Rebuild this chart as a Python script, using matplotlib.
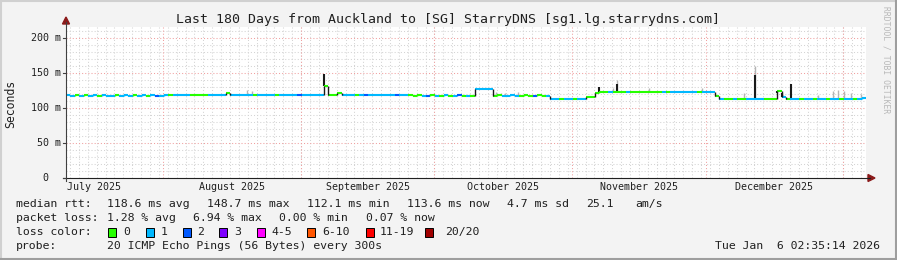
import numpy as np
import matplotlib
matplotlib.use('Agg')
import matplotlib.pyplot as plt
from matplotlib.lines import Line2D
from matplotlib.patches import Rectangle, Polygon
from datetime import datetime, timedelta

# ---------------- data ----------------
title = "Last 180 Days from Auckland to [SG] StarryDNS [sg1.lg.starrydns.com]"
end_time = datetime(2026, 1, 6, 2, 35, 14)
span_days = 180

# daily median rtt (ms), day 0 = end_time - 180 days
median_ms = [
    118.0, 117.6, 118.1, 117.6, 118.6, 117.6, 118.0, 117.6, 118.6, 117.6,
    117.6, 118.6, 117.6, 118.1, 117.6, 118.6, 117.6, 118.0, 117.6, 118.6,
    117.6, 117.6, 118.6, 118.6, 118.6, 118.6, 118.6, 118.6, 118.6, 118.6,
    118.6, 118.6, 118.6, 118.6, 118.6, 118.6, 122.0, 118.6, 118.6, 118.6,
    118.6, 118.6, 118.6, 118.6, 118.6, 118.6, 118.6, 118.6, 118.6, 118.6,
    118.6, 118.6, 118.6, 118.6, 118.6, 118.6, 118.6, 118.6, 131.0, 118.6,
    118.6, 122.0, 118.6, 118.6, 118.6, 118.6, 118.6, 118.6, 118.6, 118.6,
    118.6, 118.6, 118.6, 118.6, 118.6, 118.6, 118.6, 118.6, 117.6, 118.1,
    117.6, 117.6, 118.1, 117.6, 117.6, 118.1, 117.6, 117.6, 118.1, 117.6,
    117.6, 117.6, 127.0, 127.0, 127.0, 127.0, 117.6, 118.1, 117.6, 117.6,
    118.1, 117.6, 117.6, 118.1, 117.6, 117.6, 118.1, 117.6, 117.6, 113.3,
    113.3, 113.3, 113.3, 113.3, 113.3, 113.3, 113.3, 116.0, 116.0, 121.0,
    122.4, 122.4, 122.4, 122.4, 122.4, 122.4, 122.4, 122.4, 122.4, 122.4,
    122.4, 122.4, 122.4, 122.4, 122.4, 122.4, 122.4, 122.4, 122.4, 122.4,
    122.4, 122.4, 122.4, 122.4, 122.4, 122.4, 117.0, 112.4, 112.4, 112.4,
    112.4, 112.4, 112.4, 112.4, 112.4, 112.4, 112.4, 112.4, 112.4, 112.4,
    124.0, 116.0, 112.4, 112.4, 112.4, 112.4, 112.4, 112.4, 112.4, 112.4,
    112.4, 112.4, 112.4, 112.4, 112.4, 112.4, 112.4, 112.4, 112.4, 113.6,
]

# daily loss class (index into loss_colors)
loss_class = (
    "1101011011" "1011101101" "2110111100" "0011110111" "1101111011"
    "1121111100" "0011101211" "1111211000" "1201010120" "1011110011"
    "1100020011" "1011011000" "0010001000" "0000101111" "1101110100"
    "1001111000" "0101101101" "1011011011"
)

# smoke spikes: (day offset, top ms)
dark_spike_day = [58.05, 119.9, 124.0, 155.0, 160.0, 161.1, 163.1]
dark_spike_top = [148.7, 129.6, 134.0, 147.0, 121.0, 121.0, 134.0]
light_spike_day = [40.7, 41.9, 96.8, 97.9, 98.8, 101.7, 123.1, 124.0, 131.2,
                   143.1, 152.6, 155.0, 161.3, 169.2, 172.6, 173.7, 175.1,
                   176.6, 178.9]
light_spike_top = [125.7, 124.0, 123.0, 122.0, 122.0, 123.0, 129.0, 140.0, 128.0,
                   128.0, 121.0, 160.0, 118.0, 118.0, 124.0, 126.0, 124.0,
                   122.0, 120.0]

loss_labels = ["0", "1", "2", "3", "4-5", "6-10", "11-19", "20/20"]
loss_colors = ["#26ff00", "#00b8ff", "#0059ff", "#7e00ff", "#ff00ff",
               "#ff5500", "#ff0000", "#a00000"]

month_labels = ["July 2025", "August 2025", "September 2025", "October 2025",
                "November 2025", "December 2025"]
month_starts = [datetime(2025, 7, 1), datetime(2025, 8, 1), datetime(2025, 9, 1),
                datetime(2025, 10, 1), datetime(2025, 11, 1), datetime(2025, 12, 1),
                datetime(2026, 1, 1)]

y_ticks = [0, 50, 100, 150, 200]
y_ticklabels = ["0", "50 m", "100 m", "150 m", "200 m"]

# ---------------- figure ----------------
W, H = 897, 260
fig = plt.figure(figsize=(W / 100, H / 100), dpi=100)
fig.patch.set_facecolor('#f3f3f3')
MONO = 'DejaVu Sans Mono'

L, R, T, B = 66, 866, 27, 178
ax = fig.add_axes([L / W, 1 - B / H, (R - L) / W, (B - T) / H])
ax.set_facecolor('white')
ax.set_xlim(0, span_days)
ax.set_ylim(0, (B - T) / 0.7)
for s in ax.spines.values():
    s.set_visible(False)
ax.set_xticks([])
ax.set_yticks([])

start = end_time - timedelta(days=span_days)
def off(d):
    return (d - start).total_seconds() / 86400.0

# grid
dot = (0, (1, 2))
for v in range(10, 220, 10):
    if v % 50:
        ax.axhline(v, color='#d4d4d4', lw=0.75, ls=dot, zorder=0)
for dd in np.arange(0, span_days + 12, 2):
    ax.axvline(off(datetime(2025, 7, 1)) + dd, color='#d4d4d4', lw=0.75, ls=dot, zorder=0)
for v in y_ticks[1:]:
    ax.axhline(v, color='#f0a0a0', lw=0.75, ls=dot, zorder=1)
for ms in month_starts:
    o = off(ms)
    if 0 < o < span_days:
        ax.axvline(o, color='#f0a0a0', lw=0.75, ls=dot, zorder=1)

# smoke spikes
n = len(median_ms)
def base_at(d):
    return median_ms[min(int(d), n - 1)]
for d, t in zip(light_spike_day, light_spike_top):
    ax.vlines(d, base_at(d), t, color='#b4b4b4', lw=1.0, zorder=2)
for d, t in zip(dark_spike_day, dark_spike_top):
    ax.vlines(d, base_at(d), t, color='#1a1a1a', lw=1.5, zorder=3)

# median line
days = np.arange(n)
cols = [loss_colors[int(c)] for c in loss_class]
ax.hlines(median_ms, days, days + 1, colors=cols, lw=1.5, zorder=4)
for i in range(1, n):
    a, b = median_ms[i - 1], median_ms[i]
    if abs(a - b) > 1.5:
        ax.vlines(i, a, b, color='#1a1a1a', lw=1.0, zorder=4)
    elif a != b:
        ax.vlines(i, a, b, color=cols[i], lw=1.0, zorder=4)

# axes lines and arrows
def fx(x): return x / W
def fy(y): return 1 - y / H
fig.add_artist(Line2D([fx(L), fx(L)], [fy(B + 3), fy(22)], color='#404040', lw=0.8))
fig.add_artist(Line2D([fx(L - 3), fx(870)], [fy(B), fy(B)], color='#202020', lw=0.8))
fig.add_artist(Polygon([[fx(L - 3.5), fy(24)], [fx(L + 3.5), fy(24)], [fx(L), fy(17)]],
                       closed=True, color='#8b1a1a', transform=fig.transFigure))
fig.add_artist(Polygon([[fx(868), fy(B - 3.5)], [fx(868), fy(B + 3.5)], [fx(875), fy(B)]],
                       closed=True, color='#8b1a1a', transform=fig.transFigure))
for v in y_ticks:
    yy = B - v * 0.7
    fig.add_artist(Line2D([fx(L - 3), fx(L)], [fy(yy), fy(yy)], color='#404040', lw=0.8))

# tick labels
for v, lab in zip(y_ticks, y_ticklabels):
    xr = 61 if v else 48
    fig.text(fx(xr), fy(B - v * 0.7), lab, ha='right', va='center', family=MONO,
             fontsize=7.2, color='#202020')
for k, lab in enumerate(month_labels):
    mid = off(month_starts[k]) + (off(month_starts[k + 1]) - off(month_starts[k])) / 2
    xpix = L + mid / span_days * (R - L)
    fig.text(fx(xpix), fy(187), lab, ha='center', va='center', family=MONO,
             fontsize=7.2, color='#202020')

# title, y label, watermark
fig.text(fx(448), fy(19), title, ha='center', va='center', family=MONO,
         fontsize=9.5, color='#202020')
fig.text(fx(11), fy(104), "Seconds", ha='center', va='center', rotation=90,
         family=MONO, fontsize=8.3, color='#202020')
fig.text(fx(886), fy(60), "RRDTOOL / TOBI OETIKER", ha='center', va='center',
         rotation=270, family=MONO, fontsize=5.8, color='#b8b8b8')

# legend text
fs = 8.25
def t(x, y, s, ha='left'):
    fig.text(fx(x), fy(y), s, ha=ha, va='center', family=MONO, fontsize=fs, color='#202020')

t(16, 204, "median rtt:")
t(107, 204, "118.6 ms avg")
t(207, 204, "148.7 ms max")
t(307, 204, "112.1 ms min")
t(407, 204, "113.6 ms now")
t(507, 204, "4.7 ms sd")
t(586, 204, "25.1")
t(635, 204, "am/s")

t(16, 218, "packet loss:")
t(107, 218, "1.28 % avg")
t(193, 218, "6.94 % max")
t(279, 218, "0.00 % min")
t(366, 218, "0.07 % now")

t(16, 232, "loss color:")
box_x = [108, 146, 183, 219, 257, 307, 366, 425]
text_x = [123, 161, 197, 234, 271, 322, 380, 445]
for bx, tx, lab, c in zip(box_x, text_x, loss_labels, loss_colors):
    fig.add_artist(Rectangle((fx(bx), fy(236.5)), 8 / W, 9 / H, facecolor=c,
                             edgecolor='black', lw=0.7, transform=fig.transFigure))
    t(tx, 232, lab)

t(16, 246, "probe:")
t(107, 246, "20 ICMP Echo Pings (56 Bytes) every 300s")
t(880, 246, "Tue Jan  6 02:35:14 2026", ha='right')

# 3D border
fig.add_artist(Line2D([0, 1], [fy(0.5), fy(0.5)], color='#d0d0d0', lw=1.5))
fig.add_artist(Line2D([fx(0.5), fx(0.5)], [0, 1], color='#d0d0d0', lw=1.5))
fig.add_artist(Line2D([0, 1], [fy(259), fy(259)], color='#9e9e9e', lw=1.5))
fig.add_artist(Line2D([fx(896), fx(896)], [0, 1], color='#9e9e9e', lw=1.5))

fig.savefig('out.png', dpi=100, facecolor=fig.get_facecolor())
